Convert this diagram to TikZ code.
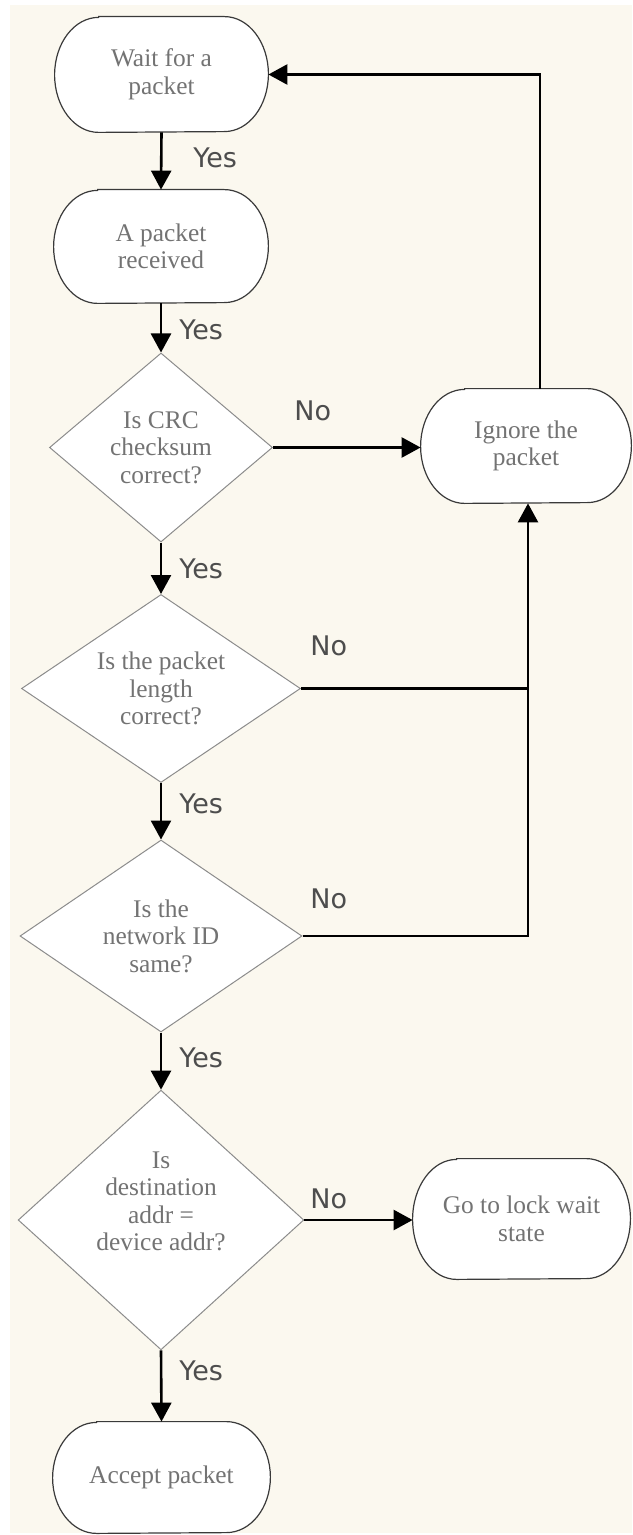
\documentclass[tikz,border=0pt]{standalone}
\usepackage{fontspec}
\setmainfont{Liberation Serif}
\newfontfamily\labelfont{DejaVu Sans}
\usetikzlibrary{shapes.geometric,arrows.meta,calc}

\definecolor{paper}{HTML}{FBF8EF}
\definecolor{boxtext}{HTML}{737373}
\definecolor{labeltext}{HTML}{4D4D4D}
\definecolor{diamondline}{HTML}{8C8C8C}
\definecolor{pillline}{HTML}{3A3A3A}

\pgfdeclarelayer{paperlayer}
\pgfdeclarelayer{shapelayer}
\pgfsetlayers{paperlayer,shapelayer,main}

\tikzset{
  boxfont/.style={font=\fontsize{12.7pt}{13.8pt}\selectfont, text=boxtext},
  pill/.style={rectangle, inner sep=0pt, align=center, boxfont},
  decision/.style={diamond, draw=diamondline, line width=0.5pt, fill=white,
    inner sep=0pt, align=center, boxfont},
  pilloutline/.style={draw=pillline, line width=0.6pt, fill=white},
  flow/.style={line width=1.3pt, draw=black},
  arr/.style={flow, -{Triangle[length=9.5pt,width=10pt]}},
  answer/.style={font=\labelfont\fontsize{13.5pt}{16pt}\selectfont,
    text=labeltext, anchor=base west, inner sep=0pt},
}

% stadium outline with elliptical ends around a named node
\newcommand\pillframe[2]{%
  \draw[pilloutline] ([xshift=22pt]#1.north west) -- ([xshift=-22pt]#1.north east)
    arc[start angle=90, end angle=-90, x radius=22pt, y radius=#2]
    -- ([xshift=22pt]#1.south west)
    arc[start angle=270, end angle=90, x radius=22pt, y radius=#2] -- cycle;}

\begin{document}
\begin{tikzpicture}[x=0.5pt, y=-0.5pt]
  \useasboundingbox (0,0) rectangle (632,1535);
  \begin{pgfonlayer}{paperlayer}
    \fill[white] (0,0) rectangle (632,1535);
    \fill[paper] (10,5) rectangle (632,1533);
  \end{pgfonlayer}

  % process steps
  \node[pill, minimum width=106.5pt, minimum height=57.5pt] (wait) at (161.5,74.5) {Wait for a\\packet};
  \node[pill, minimum width=107pt, minimum height=56.5pt] (recv) at (161,246.5) {A packet\\received};
  \node[pill, minimum width=105pt, minimum height=57pt] (ignore) at (526,446) {Ignore the\\packet};
  \node[pill, minimum width=108.5pt, minimum height=60pt] (lock) at (521.5,1219) {Go to lock wait\\state};
  \node[pill, minimum width=108.5pt, minimum height=55.5pt] (accept) at (161.5,1477.5) {Accept packet};

  \begin{pgfonlayer}{shapelayer}
    \pillframe{wait}{28.75pt}
    \pillframe{recv}{28.25pt}
    \pillframe{ignore}{28.5pt}
    \pillframe{lock}{30pt}
    \pillframe{accept}{27.75pt}
  \end{pgfonlayer}

  % decisions
  \node[decision, aspect=1.18, minimum width=111.5pt, minimum height=94.5pt] (crc) at (161,447.5) {Is CRC\\checksum\\correct?};
  \node[decision, aspect=1.48, minimum width=139.5pt, minimum height=94pt] (len) at (161,688.5) {Is the packet\\length\\correct?};
  \node[decision, aspect=1.47, minimum width=141pt, minimum height=96pt] (netid) at (161,936) {Is the\\network ID\\same?};
  \node[decision, aspect=1.1, minimum width=140pt, minimum height=127pt] (addr) at (161,1220)
    {\begin{tabular}{@{}c@{}}Is\\destination\\addr =\\device addr?\\[16pt]\end{tabular}};

  % main path
  \draw[arr] (wait.south) -- (recv.north);
  \draw[arr] (recv.south) -- (crc.north);
  \draw[arr] (crc.south) -- (len.north);
  \draw[arr] (len.south) -- (netid.north);
  \draw[arr] (netid.south) -- (addr.north);
  \draw[arr] (addr.south) -- (accept.north);

  % rejection branches
  \coordinate (ignin) at ([xshift=1pt]ignore.south);
  \draw[arr] (crc.east) -- (crc.east -| ignore.west);
  \draw[flow] (len.east) -- (len.east -| ignin);
  \draw[arr] (netid.east) -| (ignin);
  \draw[arr] ([xshift=7pt]ignore.north) |- (wait.east);
  \draw[arr] (addr.east) -- (addr.east -| lock.west);

  % branch labels
  \node[answer] (y1) at (193,168) {Yes};
  \node[answer] (y2) at (179,340) {Yes};
  \node[answer] (n1) at (294,420) {No};
  \node[answer] (y3) at (179,578) {Yes};
  \node[answer] (n2) at (310,655) {No};
  \node[answer] (y4) at (179,813) {Yes};
  \node[answer] (n3) at (310,908) {No};
  \node[answer] (y5) at (179,1067) {Yes};
  \node[answer] (n4) at (310,1208) {No};
  \node[answer] (y6) at (179,1380) {Yes};
\end{tikzpicture}
\end{document}
